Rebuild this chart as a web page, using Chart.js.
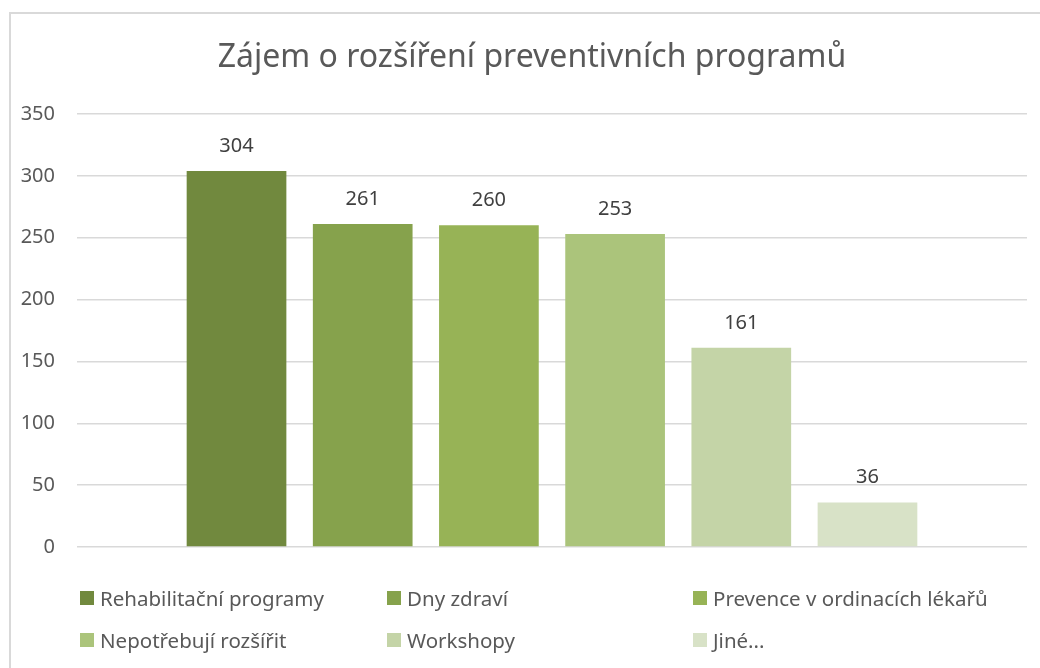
<!DOCTYPE html>
<html>
<head>
<meta charset="utf-8">
<script src="https://cdn.jsdelivr.net/npm/chart.js@4"></script>
<style>
    body { margin: 0; background: #fff; font-family: "Noto Sans", sans-serif; }
    #wrap { position: relative; width: 1040px; height: 668px; overflow: hidden; }
    #frame { position: absolute; left: 9px; top: 12px; width: 1100px; height: 700px; border: 2px solid #d9d9d9; box-sizing: border-box; }
    canvas { position: absolute; left: 0; top: 0; }
    .legend-item { position: absolute; display: flex; align-items: center; font-size: 20.5px; color: #595959; white-space: nowrap; }
    .legend-item span.box { display: inline-block; width: 14px; height: 14px; margin-right: 6px; }
</style>
</head>
<body>
<div id="wrap">
    <div id="frame"></div>
    <canvas id="chart" width="1040" height="668"></canvas>
    <div id="legend"></div>
</div>
<script>
// Chart data
const seriesNames = ['Rehabilitační programy', 'Dny zdraví', 'Prevence v ordinacích lékařů',
    'Nepotřebují rozšířit', 'Workshopy', 'Jiné...'];
const seriesValues = [304, 261, 260, 253, 161, 36];
const seriesColors = ['#71893e', '#86a24c', '#97b356', '#abc47b', '#c4d4a7', '#d8e2c7'];
const categories = [''];
const titleText = 'Zájem o rozšíření preventivních programů';

/**
 * Value labels above each bar
 */
const valueLabels = {
    id: 'valueLabels',
    afterDatasetsDraw(chart) {
        const ctx = chart.ctx;
        ctx.save();
        ctx.font = '20px "Noto Sans"';
        ctx.fillStyle = '#404040';
        ctx.textAlign = 'center';
        ctx.textBaseline = 'middle';
        chart.data.datasets.forEach((ds, i) => {
            const bar = chart.getDatasetMeta(i).data[0];
            ctx.fillText(ds.data[0], bar.x, bar.y - 25);
        });
        ctx.restore();
    }
};

/**
 * Title centred a bit right of the plot, like the original
 */
const chartTitle = {
    id: 'chartTitle',
    afterDraw(chart) {
        const ctx = chart.ctx;
        ctx.save();
        ctx.font = '32px "Noto Sans"';
        ctx.fillStyle = '#595959';
        ctx.textAlign = 'center';
        ctx.textBaseline = 'middle';
        ctx.fillText(titleText, 532, 58);
        ctx.restore();
    }
};

const ctx = document.getElementById('chart').getContext('2d');
new Chart(ctx, {
    type: 'bar',
    data: {
        labels: categories,
        datasets: seriesNames.map((name, i) => ({
            label: name,
            data: [seriesValues[i]],
            backgroundColor: seriesColors[i],
            categoryPercentage: 0.797,
            barPercentage: 0.79
        }))
    },
    options: {
        responsive: false,
        animation: false,
        layout: {
            padding: { top: 114, right: 13, bottom: 121, left: 0 }
        },
        plugins: {
            legend: { display: false },
            tooltip: { enabled: false },
            title: { display: false }
        },
        scales: {
            x: {
                display: false
            },
            y: {
                min: 0,
                max: 350,
                ticks: {
                    stepSize: 50,
                    color: '#595959',
                    padding: 22,
                    font: { family: 'Noto Sans', size: 20 }
                },
                grid: {
                    color: '#d9d9d9',
                    lineWidth: 1.5,
                    drawTicks: false
                },
                border: { display: false },
                afterFit(scale) { scale.width = 77; }
            }
        }
    },
    plugins: [valueLabels, chartTitle]
});

// Legend laid out in columns like the original
const legendCols = [80, 387, 693];
const legendRows = [598, 640];
const legend = document.getElementById('legend');
seriesNames.forEach((name, i) => {
    const item = document.createElement('div');
    item.className = 'legend-item';
    item.style.left = legendCols[i % 3] + 'px';
    item.style.top = (legendRows[Math.floor(i / 3)] - 14) + 'px';
    item.style.height = '28px';
    item.innerHTML = '<span class="box" style="background:' + seriesColors[i] + '"></span>' + name;
    legend.appendChild(item);
});
</script>
</body>
</html>
